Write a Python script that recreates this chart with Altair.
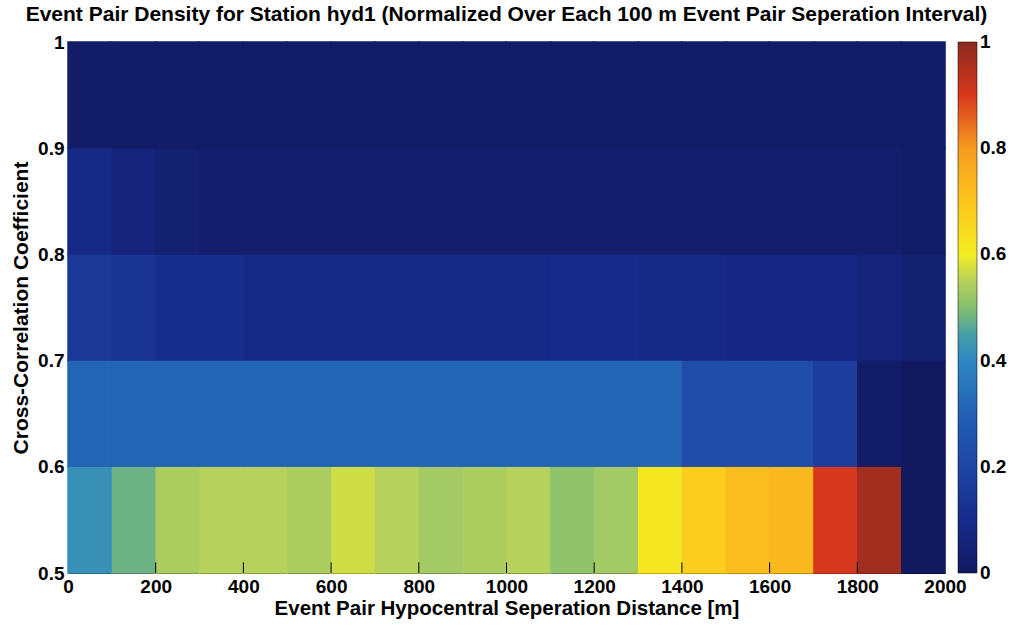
import altair as alt
import pandas as pd

# y bins (cross-correlation) lower edges, x bins (distance) lower edges
y_bins = [0.5, 0.6, 0.7, 0.8, 0.9]
x_bins = list(range(0, 2000, 100))

# normalized density per row (bottom to top), 20 columns each
row_05 = [0.42, 0.48, 0.54, 0.55, 0.55, 0.54, 0.57, 0.55, 0.53, 0.54,
          0.55, 0.51, 0.53, 0.62, 0.68, 0.72, 0.73, 0.90, 0.97, 0.0]
row_06 = [0.31, 0.31, 0.31, 0.31, 0.31, 0.31, 0.31, 0.31, 0.31, 0.31,
          0.31, 0.31, 0.31, 0.31, 0.23, 0.23, 0.23, 0.17, 0.02, 0.0]
row_07 = [0.15, 0.13, 0.11, 0.11, 0.09, 0.09, 0.09, 0.09, 0.09, 0.09,
          0.09, 0.10, 0.10, 0.09, 0.09, 0.08, 0.08, 0.08, 0.06, 0.04]
row_08 = [0.09, 0.06, 0.04, 0.03, 0.03, 0.03, 0.03, 0.03, 0.03, 0.03,
          0.03, 0.03, 0.03, 0.03, 0.03, 0.03, 0.03, 0.03, 0.03, 0.02]
row_09 = [0.02, 0.02, 0.02, 0.02, 0.02, 0.02, 0.02, 0.02, 0.02, 0.02,
          0.02, 0.02, 0.02, 0.02, 0.02, 0.02, 0.02, 0.02, 0.02, 0.02]
rows = [row_05, row_06, row_07, row_08, row_09]

x_ticks = [0, 200, 400, 600, 800, 1000, 1200, 1400, 1600, 1800, 2000]
y_ticks = [0.5, 0.6, 0.7, 0.8, 0.9, 1.0]
# colourbar label positions (ends nudged just inside so labels centre on the ends)
cbar_ticks = [0.0005, 0.2, 0.4, 0.6, 0.8, 0.9995]

cmap_domain = [0.0, 0.1, 0.2, 0.3, 0.4, 0.45, 0.5, 0.55, 0.6, 0.7, 0.8, 0.9, 1.0]
cmap_range = ["#12195e", "#172b8c", "#1e45a2", "#2260b4", "#2f86c2", "#47a0a6",
              "#86bf70", "#b6d25c", "#f2ee22", "#fcc51e", "#f59c20", "#d6381e", "#8a2a1e"]

records = []
for yi, yb in enumerate(y_bins):
    for xi, xb in enumerate(x_bins):
        records.append({"x": xb, "x2": xb + 100, "y": yb, "y2": round(yb + 0.1, 2),
                        "v": rows[yi][xi], "w": rows[yi][xi]})
df = pd.DataFrame(records)

font = "Liberation Sans"

xenc = alt.X("x:Q", scale=alt.Scale(domain=[0, 2000], nice=False, zero=False),
             axis=alt.Axis(values=x_ticks, title="Event Pair Hypocentral Seperation Distance [m]",
                           format="d", grid=False, tickSize=0, labelPadding=4,
                           labelFont=font, labelFontSize=19, labelFontWeight="bold",
                           labelColor="black", titleFont=font, titleFontSize=20.5,
                           titleFontWeight="bold", titleColor="black", titlePadding=2,
                           domainColor="black", labelFlush=False))
yenc = alt.Y("y:Q", scale=alt.Scale(domain=[0.5, 1.0], nice=False, zero=False),
             axis=alt.Axis(values=y_ticks, title="Cross-Correlation Coefficient",
                           labelExpr="datum.value == 1 ? '1' : format(datum.value, '.1f')",
                           grid=False, tickSize=0, labelPadding=4,
                           labelFont=font, labelFontSize=19, labelFontWeight="bold",
                           labelColor="black", titleFont=font, titleFontSize=21,
                           titleFontWeight="bold", titleColor="black", titlePadding=6,
                           domainColor="black", labelFlush=False))

# underlay: strokes in the cell colour to hide anti-aliasing seams
under = alt.Chart(df).mark_rect(fillOpacity=0, strokeWidth=1.5).encode(
    x=xenc, x2="x2:Q", y=yenc, y2="y2:Q",
    stroke=alt.Stroke("w:Q", scale=alt.Scale(domain=cmap_domain, range=cmap_range,
                                             interpolate="rgb"), legend=None),
)

heat = alt.Chart(df).mark_rect().encode(
    x=xenc, x2="x2:Q", y=yenc, y2="y2:Q",
    color=alt.Color("v:Q", scale=alt.Scale(domain=cmap_domain, range=cmap_range,
                                           interpolate="rgb"),
                    legend=alt.Legend(type="gradient", orient="none", legendX=890, legendY=0,
                                      title=None, direction="vertical", gradientLength=531,
                                      gradientThickness=19, values=cbar_ticks,
                                      labelExpr="datum.value < 0.01 ? '0' : datum.value > 0.99 ? '1' : format(datum.value, '.1f')",
                                      labelFont=font, labelFontSize=19, labelFontWeight="bold",
                                      labelColor="black", labelOverlap=False,
                                      labelBaseline="middle",
                                      gradientStrokeColor="black", gradientStrokeWidth=0.5,
                                      labelOffset=3)),
)

tick_df = pd.DataFrame({"t": x_ticks[1:-1], "y0": [0.5] * 9, "y1": [0.51] * 9})
xticks_layer = alt.Chart(tick_df).mark_rule(color="black", strokeWidth=1).encode(
    x="t:Q", y="y0:Q", y2="y1:Q")

chart = alt.layer(under, heat, xticks_layer).resolve_legend(
    color="independent", stroke="independent"
).properties(
    width=877, height=531,
    title=alt.TitleParams("Event Pair Density for Station hyd1 (Normalized Over Each 100 m Event Pair Seperation Interval)",
                          font=font, fontSize=21, fontWeight="bold", color="black",
                          anchor="middle", offset=8),
    autosize=alt.AutoSizeParams(type="none"),
    padding={"left": 68, "top": 42, "right": 66, "bottom": 54},
).configure_view(stroke="black", strokeWidth=1).configure(background="white")

chart.save("out.html", embed_options={"renderer": "svg", "actions": False})
